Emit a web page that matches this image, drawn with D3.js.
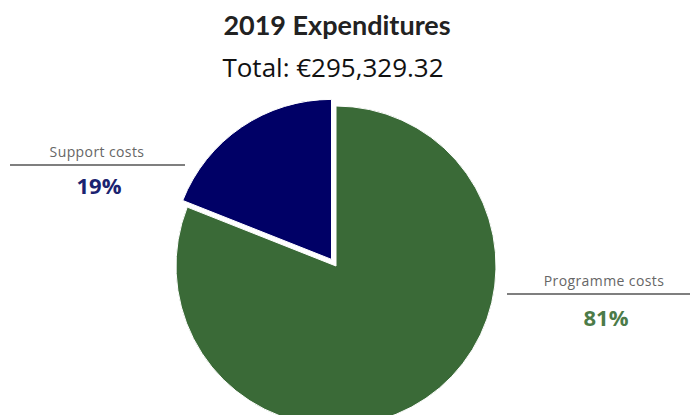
<!DOCTYPE html>
<html>
<head>
<meta charset="utf-8">
<title>2019 Expenditures</title>
<script src="https://d3js.org/d3.v7.min.js"></script>
<style>
  body { margin: 0; background: #fff; }
  .title { font-family: Lato, sans-serif; font-weight: bold; font-size: 27px; fill: #222; }
  .sub { font-family: "Open Sans", sans-serif; font-size: 26px; fill: #111; }
  .lab { font-family: "Open Sans", sans-serif; font-size: 14px; fill: #666; letter-spacing: 0.4px; }
  .pct { font-family: "Open Sans", sans-serif; font-size: 22px; font-weight: bold; }
</style>
</head>
<body>
<script>
var categories = ["Programme costs", "Support costs"];
var values = [81, 19];
var colors = ["#3a6a37", "#000066"];
var pctColors = ["#4c7b48", "#1b2370"];
var title = "2019 Expenditures";
var subtitle = "Total: €295,329.32";

var width = 694, height = 415;
var cx = 336, cy = 266, r = 160;

var svg = d3.select("body").append("svg")
    .attr("width", width)
    .attr("height", height);

svg.append("text").attr("class", "title")
    .attr("x", 337).attr("y", 35).attr("text-anchor", "middle").text(title);
svg.append("text").attr("class", "sub")
    .attr("x", 333).attr("y", 77).attr("text-anchor", "middle").text(subtitle);

var pie = d3.pie().sort(null);
var arcs = pie(values);
var arc = d3.arc().innerRadius(0).outerRadius(r);

var g = svg.append("g").attr("transform", "translate(" + cx + "," + cy + ")");

g.selectAll("path")
    .data(arcs).enter()
    .append("path")
    .attr("d", arc)
    .attr("fill", function(d, i) { return colors[i]; })
    .attr("stroke", "#fff")
    .attr("stroke-width", 1)
    .attr("transform", function(d, i) {
      if (i !== 1) return null;
      // pull the small slice out a little
      var mid = (d.startAngle + d.endAngle) / 2, off = 8;
      return "translate(" + (Math.sin(mid) * off) + "," + (-Math.cos(mid) * off) + ")";
    });

// labels
var labels = [
  {x1: 10, x2: 185, y: 165, tx: 97, dy: 29},
  {x1: 507, x2: 690, y: 294, tx: 604, dy: 32}
];
var order = [1, 0];
order.forEach(function(i, k) {
  var L = labels[k];
  svg.append("line")
    .attr("x1", L.x1).attr("x2", L.x2).attr("y1", L.y).attr("y2", L.y)
    .attr("stroke", "#555").attr("stroke-width", 1.5);
  svg.append("text").attr("class", "lab")
    .attr("x", L.tx).attr("y", L.y - 8).attr("text-anchor", "middle")
    .text(categories[i]);
  svg.append("text").attr("class", "pct")
    .attr("x", L.tx + 2).attr("y", L.y + L.dy).attr("text-anchor", "middle")
    .attr("fill", pctColors[i])
    .text(values[i] + "%");
});
</script>
</body>
</html>
